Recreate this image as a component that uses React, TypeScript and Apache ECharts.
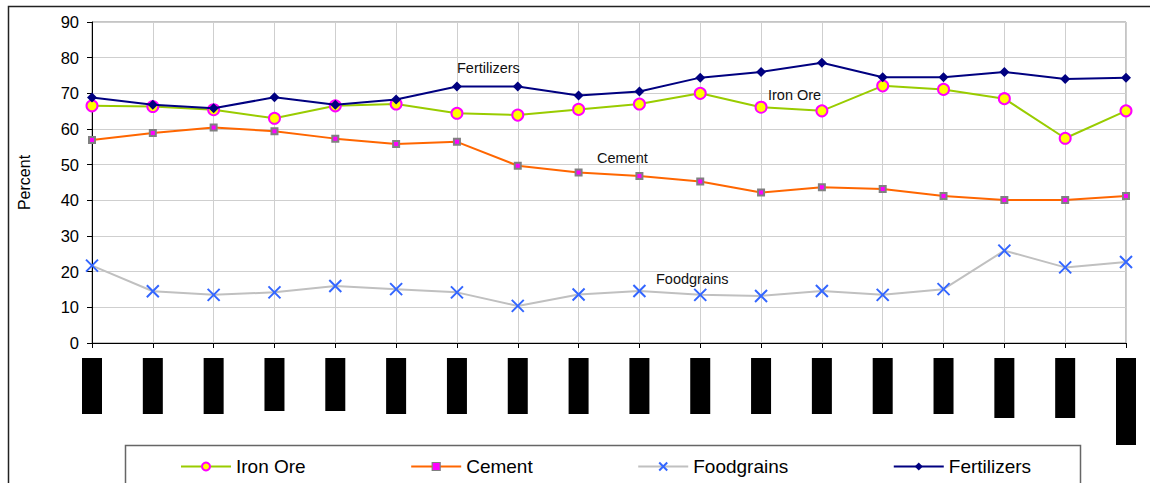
import React, { useEffect, useRef } from "react";
import * as echarts from "echarts";

// Years on the category axis
const years = [
  "1990-91", "1991-92", "1992-93", "1993-94", "1994-95", "1995-96",
  "1996-97", "1997-98", "1998-99", "1999-00", "2000-01", "2001-02",
  "2002-03", "2003-04", "2004-05", "2005-06", "2006-07", "2007-08 (P)",
];

// Percent values per commodity
const ironOre = [66.5, 66.3, 65.4, 63.0, 66.5, 67.0, 64.4, 63.9, 65.5, 67.0, 70.0, 66.1, 65.1, 72.1, 71.1, 68.5, 57.4, 65.1];
const cement = [56.9, 58.9, 60.4, 59.4, 57.3, 55.8, 56.4, 49.7, 47.8, 46.8, 45.3, 42.2, 43.7, 43.2, 41.2, 40.1, 40.1, 41.2];
const foodgrains = [21.7, 14.5, 13.5, 14.2, 16.0, 15.1, 14.2, 10.4, 13.6, 14.6, 13.5, 13.2, 14.6, 13.5, 15.1, 25.9, 21.2, 22.7];
const fertilizers = [68.8, 66.8, 65.8, 68.9, 66.8, 68.3, 71.9, 71.9, 69.4, 70.5, 74.4, 76.0, 78.6, 74.5, 74.5, 76.0, 74.0, 74.4];

const yTicks = { min: 0, max: 90, interval: 10 };

const FONT = "'Liberation Sans', Arial, sans-serif";

// x-axis labels are blacked out; pick a block length per category
function blockKind(i: number): string {
  if (i === 17) return "last";
  if (i === 3 || i === 4) return "short";
  if (i === 15 || i === 16) return "long";
  return "norm";
}

const blockStyle = (w: number) => ({
  width: w,
  height: 20,
  backgroundColor: "#000",
  color: "#000",
  fontSize: 13,
  fontFamily: FONT,
  align: "center" as const,
});

export default function App() {
  const ref = useRef<HTMLDivElement>(null);

  useEffect(() => {
    if (!ref.current) return;
    const chart = echarts.init(ref.current, undefined, { renderer: "svg" });

    const seriesLabel = (text: string, x: number, y: number) => ({
      type: "text",
      left: x,
      top: y,
      z: 10,
      style: { text, fill: "#111", font: `14.5px ${FONT}` },
    });

    chart.setOption({
      animation: false,
      backgroundColor: "#fff",
      grid: {
        left: 92,
        right: 24,
        top: 22,
        bottom: 140,
        show: true,
        borderColor: "#8a8a8a",
        borderWidth: 1,
      },
      xAxis: {
        type: "category",
        data: years,
        boundaryGap: false,
        axisLine: { lineStyle: { color: "#000", width: 1 } },
        axisTick: { show: true, interval: 0, length: 5, lineStyle: { color: "#000" } },
        splitLine: { show: true, interval: 0, lineStyle: { color: "#cfcfcf", width: 1 } },
        axisLabel: {
          interval: 0,
          rotate: 90,
          margin: 15,
          formatter: (v: string, i: number) => `{${blockKind(i)}|${v}}`,
          rich: {
            norm: blockStyle(56),
            short: blockStyle(53),
            long: blockStyle(60),
            last: blockStyle(87),
          },
        },
      },
      yAxis: {
        type: "value",
        min: yTicks.min,
        max: yTicks.max,
        interval: yTicks.interval,
        name: "Percent",
        nameLocation: "middle",
        nameGap: 60,
        nameRotate: 90,
        nameTextStyle: { fontSize: 16, fontFamily: FONT, color: "#000" },
        axisLine: { show: true, lineStyle: { color: "#000", width: 1 } },
        axisTick: { show: true, length: 5, lineStyle: { color: "#000" } },
        splitLine: { show: true, lineStyle: { color: "#cfcfcf", width: 1 } },
        axisLabel: { fontSize: 16.5, fontFamily: FONT, color: "#000", margin: 13 },
      },
      legend: {
        left: 180,
        top: 457,
        padding: 0,
        itemGap: 104.5,
        itemWidth: 50,
        itemHeight: 10,
        textStyle: { fontSize: 19, fontFamily: FONT, color: "#000" },
        data: [
          { name: "Iron Ore" },
          { name: "Cement", itemStyle: { borderWidth: 1.2 } },
          { name: "Foodgrains" },
          { name: "Fertilizers" },
        ],
      },
      graphic: [
        {
          type: "rect",
          z: -1,
          shape: { x: 8.5, y: 6.5, width: 1300, height: 700 },
          style: { fill: "none", stroke: "#222", lineWidth: 1.5 },
        },
        {
          type: "rect",
          z: -1,
          shape: { x: 125.5, y: 445.5, width: 955, height: 100 },
          style: { fill: "none", stroke: "#666", lineWidth: 1.5 },
        },
        seriesLabel("Fertilizers", 457, 60),
        seriesLabel("Iron Ore", 768, 87),
        seriesLabel("Cement", 597, 150),
        seriesLabel("Foodgrains", 656, 271),
      ],
      series: [
        {
          name: "Iron Ore",
          type: "line",
          data: ironOre,
          symbol: "circle",
          symbolSize: 11,
          lineStyle: { color: "#99CC00", width: 2 },
          itemStyle: { color: "#FFFF00", borderColor: "#FF00FF", borderWidth: 2 },
          z: 3,
        },
        {
          name: "Cement",
          type: "line",
          data: cement,
          symbol: "rect",
          symbolSize: 6,
          lineStyle: { color: "#FF6600", width: 2 },
          itemStyle: { color: "#FF00FF", borderColor: "#808080", borderWidth: 2 },
          z: 3,
        },
        {
          name: "Foodgrains",
          type: "line",
          data: foodgrains,
          symbol: "path://M0,0L10,10M10,0L0,10",
          symbolSize: 12,
          lineStyle: { color: "#C0C0C0", width: 2 },
          itemStyle: { color: "rgba(0,0,0,0)", borderColor: "#3366FF", borderWidth: 2 },
          z: 3,
        },
        {
          name: "Fertilizers",
          type: "line",
          data: fertilizers,
          symbol: "diamond",
          symbolSize: 10,
          lineStyle: { color: "#000080", width: 2 },
          itemStyle: { color: "#000080" },
          z: 4,
        },
      ],
    });

    return () => chart.dispose();
  }, []);

  return (
    <div
      ref={ref}
      style={{ position: "fixed", left: 0, top: 0, width: 1150, height: 483 }}
    />
  );
}
